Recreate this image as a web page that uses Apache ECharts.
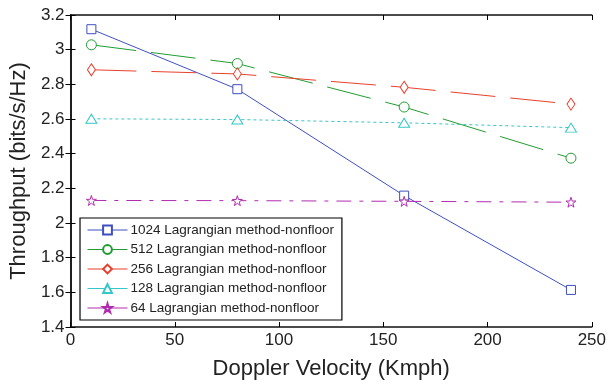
<!DOCTYPE html>
<html>
<head>
<meta charset="utf-8">
<script src="https://cdn.jsdelivr.net/npm/echarts@6/dist/echarts.min.js"></script>
<style>
  html, body { margin: 0; padding: 0; background: #fff; }
  #chart { width: 609px; height: 385px; }
</style>
</head>
<body>
<div id="chart"></div>
<script>
// data
const velocity = [10, 80, 160, 240];
const names = [
  '1024 Lagrangian method-nonfloor',
  '512 Lagrangian method-nonfloor',
  '256 Lagrangian method-nonfloor',
  '128 Lagrangian method-nonfloor',
  '64 Lagrangian method-nonfloor'
];
const thr1024 = [3.118, 2.772, 2.158, 1.614];
const thr512 = [3.028, 2.920, 2.669, 2.374];
const thr256 = [2.884, 2.860, 2.783, 2.686];
const thr128 = [2.601, 2.597, 2.578, 2.550];
const thr64 = [2.130, 2.129, 2.125, 2.120];

const star = 'path://M50,0 L61,35 L98,35 L68,57 L79,91 L50,70 L21,91 L32,57 L2,35 L39,35 Z';
const font = '"Liberation Sans", Arial, Helvetica, sans-serif';

function pairs(ys) {
  return velocity.map((x, i) => [x, ys[i]]);
}

function mk(name, ys, color, type, symbol, size) {
  return {
    name: name,
    type: 'line',
    data: pairs(ys),
    color: color,
    symbol: symbol,
    symbolSize: size,
    showSymbol: true,
    lineStyle: { color: color, width: 1, type: type },
    itemStyle: { color: '#fff', borderColor: color, borderWidth: 1 },
    emphasis: { disabled: true },
    animation: false
  };
}

var myChart = echarts.init(document.getElementById('chart'));

const tickStyle = { show: true, inside: true, length: 5, lineStyle: { color: '#000', width: 1 } };
const axLine = { show: true, lineStyle: { color: '#111', width: 1.5 } };

myChart.setOption({
  textStyle: { fontFamily: font },
  grid: { left: 70, right: 17, top: 15, bottom: 57 },
  legend: {
    left: 80, top: 218,
    orient: 'vertical',
    backgroundColor: '#fff',
    borderColor: '#000',
    borderWidth: 1.2,
    padding: [5, 8, 5, 7],
    itemGap: 5.5,
    itemWidth: 40,
    itemHeight: 11,
    lineStyle: { type: 'solid', width: 1 },
    textStyle: { fontSize: 13.5, lineHeight: 14, color: '#222', fontFamily: font, padding: [0, 0, 0, -2] },
    data: names
  },
  xAxis: [
    {
      type: 'value', min: 0, max: 250, interval: 50,
      name: 'Doppler Velocity (Kmph)', nameLocation: 'middle', nameGap: 31,
      nameTextStyle: { fontSize: 22, color: '#222' },
      axisLine: axLine, axisTick: tickStyle,
      axisLabel: { fontSize: 17, color: '#222', margin: 5 },
      splitLine: { show: false }
    },
    {
      type: 'value', min: 0, max: 250, interval: 50, position: 'top',
      axisLine: axLine, axisTick: tickStyle, axisLabel: { show: false },
      splitLine: { show: false }
    }
  ],
  yAxis: [
    {
      type: 'value', min: 1.4, max: 3.2, interval: 0.2,
      name: 'Throughput (bits/s/Hz)', nameLocation: 'middle', nameGap: 39,
      nameTextStyle: { fontSize: 22, color: '#222' },
      axisLine: axLine, axisTick: tickStyle,
      axisLabel: { fontSize: 17, color: '#222', margin: 6,
        formatter: v => String(Math.round(v * 10) / 10) },
      splitLine: { show: false }
    },
    {
      type: 'value', min: 1.4, max: 3.2, interval: 0.2, position: 'right',
      axisLine: axLine, axisTick: tickStyle, axisLabel: { show: false },
      splitLine: { show: false }
    }
  ],
  series: [
    mk(names[0], thr1024, '#3f4fc0', 'solid', 'rect', 9),
    mk(names[1], thr512, '#239b33', [45, 15], 'circle', 10),
    mk(names[2], thr256, '#e8402e', [45, 15], 'diamond', [8, 12]),
    mk(names[3], thr128, '#35c6c6', [3, 3], 'triangle', [11, 9]),
    mk(names[4], thr64, '#b02cae', [15, 8, 4, 8], star, 10)
  ]
});
</script>
</body>
</html>
